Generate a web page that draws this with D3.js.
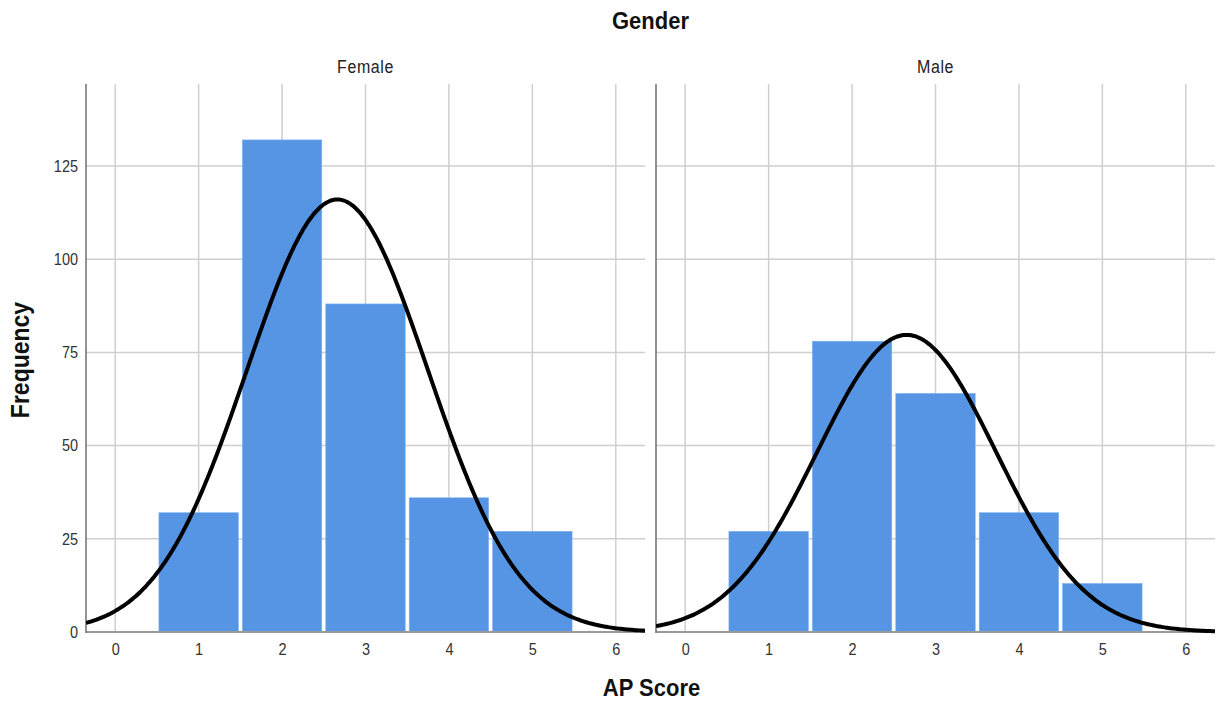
<!DOCTYPE html>
<html>
<head>
<meta charset="utf-8">
<script src="https://cdn.jsdelivr.net/npm/d3@7"></script>
<style>
  body { margin: 0; background: #fff; }
  svg { display: block; }
  text { font-family: "Liberation Sans", Arial, sans-serif; }
</style>
</head>
<body>
<svg id="chart" width="1219" height="702"></svg>
<script>
// AP score histograms by gender, each with a fitted normal curve
const scores = [1, 2, 3, 4, 5];
const genders = ["Female", "Male"];
const femaleCounts = [32, 132, 88, 36, 27];
const maleCounts = [27, 78, 64, 32, 13];
const xTicks = [0, 1, 2, 3, 4, 5, 6];
const yTicks = [0, 25, 50, 75, 100, 125];

const countsByGender = { Female: femaleCounts, Male: maleCounts };

const svg = d3.select("#chart");
const plotTop = 84, plotBottom = 632;
const panelRanges = [[86, 645], [656, 1215]];
const xDomain = [-0.35, 6.35];
const yDomain = [0, 147];

const barColor = "#5595e4";
const gridColor = "#cfcfcf";
const fontStack = '"Liberation Sans", Arial, sans-serif';
const stretch = 1.12; // labels are drawn slightly taller than wide

const y = d3.scaleLinear().domain(yDomain).range([plotBottom, plotTop]);

// Fitted normal density scaled to counts (bin width 1)
function normalFit(counts) {
  const n = d3.sum(counts);
  const mean = d3.sum(scores, (s, i) => s * counts[i]) / n;
  const ss = d3.sum(scores, (s, i) => counts[i] * (s - mean) ** 2);
  const sd = Math.sqrt(ss / (n - 1));
  return x => n / (sd * Math.sqrt(2 * Math.PI)) * Math.exp(-((x - mean) ** 2) / (2 * sd * sd));
}

svg.append("defs").selectAll("clipPath")
  .data(panelRanges)
  .join("clipPath")
  .attr("id", (d, i) => "panel-clip-" + i)
  .append("rect")
  .attr("x", d => d[0]).attr("y", plotTop)
  .attr("width", d => d[1] - d[0]).attr("height", plotBottom - plotTop + 4);

function label(x, yPos, text, size, bold, rotate) {
  return svg.append("text")
    .attr("transform", `translate(${x},${yPos})` + (rotate ? " rotate(-90)" : "") + ` scale(1,${stretch})`)
    .attr("text-anchor", "middle")
    .attr("font-size", size)
    .attr("font-weight", bold ? "bold" : null)
    .attr("fill", bold ? "#111" : "#222")
    .text(text);
}

genders.forEach((g, gi) => {
  const [x0, x1] = panelRanges[gi];
  const x = d3.scaleLinear().domain(xDomain).range([x0, x1]);
  const counts = countsByGender[g];
  const panel = svg.append("g");

  // grid
  panel.append("g").selectAll("line")
    .data(xTicks).join("line")
    .attr("x1", d => x(d)).attr("x2", d => x(d))
    .attr("y1", plotTop).attr("y2", plotBottom)
    .attr("stroke", gridColor).attr("stroke-width", 1.5);
  panel.append("g").selectAll("line")
    .data(yTicks.filter(d => d > 0)).join("line")
    .attr("x1", x0).attr("x2", x1)
    .attr("y1", d => y(d)).attr("y2", d => y(d))
    .attr("stroke", gridColor).attr("stroke-width", 1.5);

  // bars
  panel.append("g").selectAll("rect")
    .data(scores.map((s, i) => ({ s, c: counts[i] })))
    .join("rect")
    .attr("x", d => x(d.s - 0.5) + 2)
    .attr("width", d => x(d.s + 0.5) - x(d.s - 0.5) - 4)
    .attr("y", d => y(d.c))
    .attr("height", d => y(0) - y(d.c))
    .attr("fill", barColor)
    .attr("stroke", "#7fb0ee").attr("stroke-width", 0.6);

  // axis lines
  panel.append("line")
    .attr("x1", x0).attr("x2", x1).attr("y1", plotBottom).attr("y2", plotBottom)
    .attr("stroke", "#9a9a9a").attr("stroke-width", 2);
  panel.append("line")
    .attr("x1", x0).attr("x2", x0).attr("y1", plotTop).attr("y2", plotBottom + 1)
    .attr("stroke", "#6e6e6e").attr("stroke-width", 1.5);

  // normal curve
  const f = normalFit(counts);
  const step = (xDomain[1] - xDomain[0]) / 300;
  const pts = d3.range(xDomain[0], xDomain[1] + step / 2, step);
  panel.append("path")
    .datum(pts)
    .attr("clip-path", `url(#panel-clip-${gi})`)
    .attr("fill", "none")
    .attr("stroke", "#000")
    .attr("stroke-width", 4)
    .attr("d", d3.line().x(d => x(d)).y(d => y(f(d))).curve(d3.curveBasis));

  // x axis tick labels
  const xAxis = d3.axisBottom(x).tickValues(xTicks).tickSize(0).tickPadding(10).tickFormat(d3.format("d"));
  const xa = panel.append("g").attr("transform", `translate(0,${plotBottom})`).call(xAxis);
  xa.select(".domain").remove();
  xa.selectAll("text").attr("font-size", 14.5).attr("fill", "#333")
    .attr("transform", `scale(1,${stretch})`)
    .style("font-family", fontStack);

  // panel label
  label((x0 + x1) / 2, 73, g, 16, false).attr("letter-spacing", 0.6);

  if (gi === 0) {
    const yAxis = d3.axisLeft(y).tickValues(yTicks).tickSize(0).tickPadding(8);
    const ya = panel.append("g").attr("transform", `translate(${x0},0)`).call(yAxis);
    ya.select(".domain").remove();
    ya.selectAll("text").attr("font-size", 14.5).attr("fill", "#333")
      .attr("transform", `scale(1,${stretch})`)
      .style("font-family", fontStack);
  }
});

// titles
label(650.5, 29, "Gender", 22, true);
label(651.5, 696, "AP Score", 22, true);
label(29, 360, "Frequency", 23, true, true);
</script>
</body>
</html>
